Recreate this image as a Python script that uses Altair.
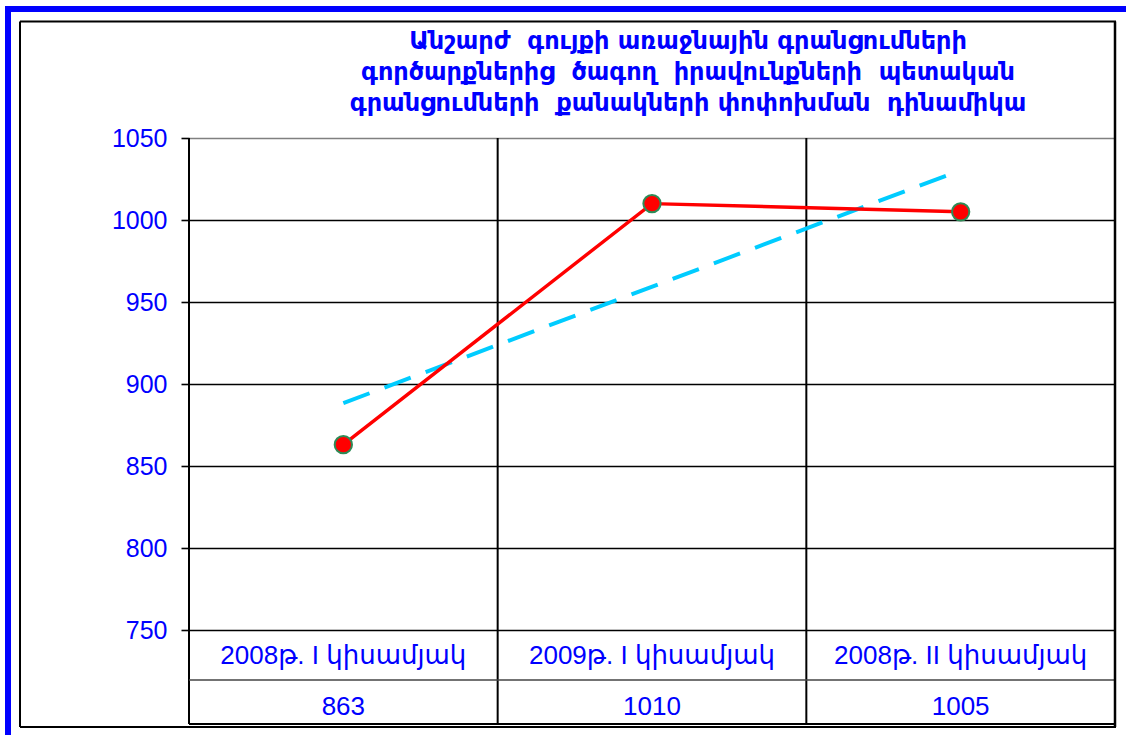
import altair as alt
import pandas as pd

# Half-year periods and registration counts
periods = ["2008թ. I կիսամյակ", "2009թ. I կիսամյակ", "2008թ. II կիսամյակ"]
counts = [863, 1010, 1005]
y_ticks = [750, 800, 850, 900, 950, 1000, 1050]
title_lines = [
    "Անշարժ  գույքի առաջնային գրանցումների",
    "գործարքներից  ծագող  իրավունքների  պետական",
    "գրանցումների  քանակների փոփոխման  դինամիկա",
]

df = pd.DataFrame({"period": periods, "count": counts})
dummy = pd.DataFrame({"k": [0]})

W, H = 926, 492
BLUE = "#0000FF"
LABEL_FONT = "Liberation Sans, Arial, DejaVu Sans"

base = alt.Chart(df).transform_window(idx="row_number()")

x_enc = alt.X("idx:Q", scale=alt.Scale(domain=[0.5, 3.5], nice=False, zero=False), axis=None)
y_enc = alt.Y(
    "count:Q",
    scale=alt.Scale(domain=[750, 1050], nice=False, zero=False),
    axis=alt.Axis(
        values=y_ticks,
        format="d",
        grid=True,
        gridColor=alt.condition("datum.value == 1050", alt.value("#808080"), alt.value("black")),
        gridWidth=1.6,
        domain=False,
        ticks=True,
        tickColor="black",
        tickWidth=1.6,
        tickSize=8,
        labelColor=BLUE,
        labelFont=LABEL_FONT,
        labelFontSize=25,
        labelPadding=14,
        title=None,
    ),
)

# Column borders of the data table, running from the plot top to the table bottom
col_lines = base.transform_calculate(b="datum.idx - 0.5").mark_rule(
    color="black", strokeWidth=2
).encode(x=alt.X("b:Q", axis=None), y=alt.value(0), y2=alt.value(586))

# Table row lines
row_sep = alt.Chart(dummy).mark_rule(color="#444444", strokeWidth=1.6).encode(
    x=alt.value(0), x2=alt.value(W), y=alt.value(542)
)
row_bottom = alt.Chart(dummy).mark_rule(color="black", strokeWidth=2).encode(
    x=alt.value(0), x2=alt.value(W), y=alt.value(586)
)

# Outer black frame
frame_top = alt.Chart(dummy).mark_rule(color="black", strokeWidth=2).encode(
    x=alt.value(-169), x2=alt.value(W + 1), y=alt.value(-116.5)
)
frame_bottom = alt.Chart(dummy).mark_rule(color="black", strokeWidth=2).encode(
    x=alt.value(-169), x2=alt.value(W + 1), y=alt.value(589)
)
frame_left = alt.Chart(dummy).mark_rule(color="black", strokeWidth=2).encode(
    x=alt.value(-169), y=alt.value(-116.5), y2=alt.value(589)
)
frame_right = alt.Chart(dummy).mark_rule(color="black", strokeWidth=2.5).encode(
    x=alt.value(W), y=alt.value(-116.5), y2=alt.value(589)
)

# Blue page border
blue_top = alt.Chart(dummy).mark_rule(color=BLUE, strokeWidth=6).encode(
    x=alt.value(-184), x2=alt.value(W + 11), y=alt.value(-129)
)
blue_left = alt.Chart(dummy).mark_rule(color=BLUE, strokeWidth=6).encode(
    x=alt.value(-181), y=alt.value(-132), y2=alt.value(600)
)

# Linear trend of the counts over the periods
trend = base.transform_regression("idx", "count").mark_line(
    color="#00CCFF", strokeWidth=4, strokeDash=[28, 16]
).encode(x=x_enc, y=y_enc)

line = base.mark_line(color="#FF0000", strokeWidth=3.4).encode(x=x_enc, y=y_enc)
points = base.mark_circle(
    color="#FF0000", opacity=1, size=300, stroke="#2E8B57", strokeWidth=2
).encode(x=x_enc, y=y_enc)

# Data table text
cat_text = base.mark_text(font=LABEL_FONT, fontSize=26, color=BLUE, baseline="middle").encode(
    x=x_enc, y=alt.value(518), text="period:N"
)
val_text = base.mark_text(font=LABEL_FONT, fontSize=26, color=BLUE, baseline="middle").encode(
    x=x_enc, y=alt.value(569), text=alt.Text("count:Q", format="d")
)

# Keep the wide gaps between words (plain double spaces collapse in SVG)
title_text = "\n".join(t.replace("  ", " \u00a0") for t in title_lines)
title = alt.Chart(dummy).mark_text(
    font="DejaVu Sans", fontSize=24, fontWeight="bold", color=BLUE,
    lineBreak="\n", lineHeight=31, baseline="middle", align="center",
).encode(x=alt.value(499), y=alt.value(-96), text=alt.value(title_text))

chart = alt.layer(
    col_lines, row_sep, row_bottom,
    frame_top, frame_bottom, frame_left, frame_right,
    blue_top, blue_left,
    trend, line, points, cat_text, val_text, title,
).properties(
    width=W, height=H,
    autosize=alt.AutoSizeParams(type="none"),
    padding={"left": 189, "top": 138, "right": 11, "bottom": 105},
    background="white",
).configure_view(stroke=None)

chart.save("out.html", embed_options={"renderer": "svg", "actions": False})
